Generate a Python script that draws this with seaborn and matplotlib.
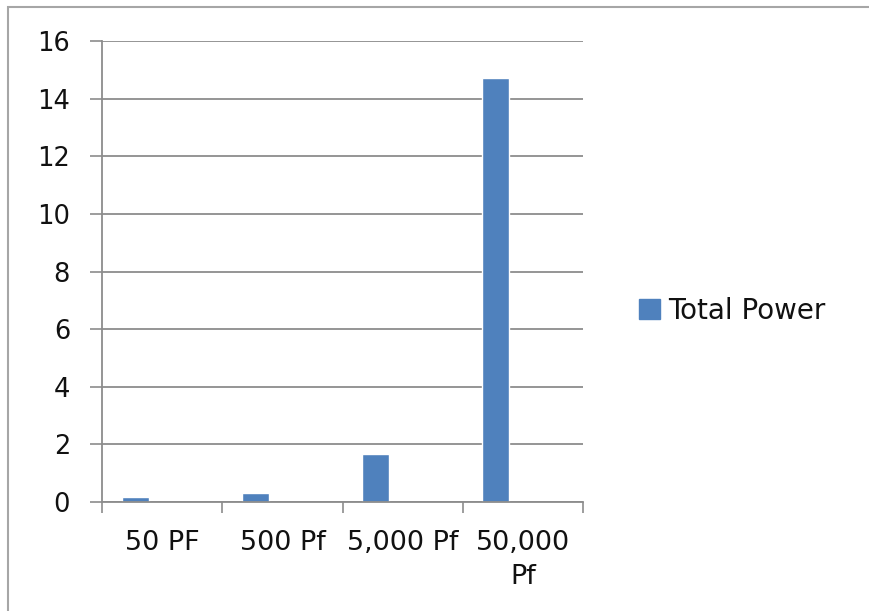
import matplotlib
matplotlib.use("Agg")
import matplotlib.pyplot as plt
import seaborn as sns
import pandas as pd
import numpy as np
from matplotlib.patches import Rectangle, Patch

categories = ["50 PF", "500 Pf", "5,000 Pf", "50,000\nPf"]
series_name = "Total Power"
values = [0.18, 0.31, 1.65, 14.7]
y_ticks = [0, 2, 4, 6, 8, 10, 12, 14, 16]
# two empty placeholder series (Excel leaves their slots empty)
empty_series = ["_s2", "_s3"]

sns.set_theme(style="white")
plt.rcParams['font.family'] = ['DejaVu Sans']

rows = [{"cat": c, "val": v, "series": series_name} for c, v in zip(categories, values)]
for s in empty_series:
    rows += [{"cat": c, "val": np.nan, "series": s} for c in categories]
df = pd.DataFrame(rows)

fig = plt.figure(figsize=(8.69, 6.11), dpi=100)
fig.patch.set_facecolor("white")
ax = fig.add_axes([102 / 869, 1 - 502 / 611, (583 - 102) / 869, (502 - 41) / 611])

bar_color = "#4F81BD"
sns.barplot(data=df, x="cat", y="val", hue="series",
            hue_order=[series_name] + empty_series,
            palette={series_name: bar_color, "_s2": "#C0504D", "_s3": "#9BBB59"},
            width=0.675, ax=ax, legend=False, errorbar=None, saturation=1,
            order=categories)

ax.set_ylim(0, 16)
ax.set_xlim(-0.5, len(categories) - 0.5)
ax.set_yticks(y_ticks)
ax.set_yticklabels([str(t) for t in y_ticks], fontsize=18.5, color="#111111")
ax.set_xlabel("")
ax.set_ylabel("")

# gridlines
ax.yaxis.grid(True, color="#8c8c8c", linewidth=1.3)
ax.xaxis.grid(False)
ax.set_axisbelow(True)

# x ticks at category boundaries, labels at centers
ax.set_xticks([i - 0.5 for i in range(len(categories) + 1)], minor=False)
ax.set_xticklabels([""] * (len(categories) + 1))
ax.set_xticks(list(range(len(categories))), minor=True)
ax.set_xticklabels(categories, minor=True, fontsize=19.5, color="#111111", linespacing=1.4)
ax.tick_params(axis="x", which="minor", length=0, pad=20, bottom=True)
ax.tick_params(axis="x", which="major", length=8, width=1.2, color="#8c8c8c",
               direction="out", bottom=True)
ax.tick_params(axis="y", length=9, width=1.2, color="#8c8c8c", direction="out",
               pad=14, left=True)

for s in ["top", "right"]:
    ax.spines[s].set_visible(False)
for s in ["left", "bottom"]:
    ax.spines[s].set_color("#8c8c8c")
    ax.spines[s].set_linewidth(1.3)

handle = Patch(facecolor=bar_color, edgecolor=bar_color)
fig.legend([handle], [series_name], loc="center left",
           bbox_to_anchor=(639 / 869, 1 - 311 / 611), frameon=False,
           fontsize=20, handlelength=0.75, handleheight=0.75, handletextpad=0.3,
           borderaxespad=0, borderpad=0, labelcolor="#111111")

# outer chart frame (extends off the right/bottom edge)
frame = Rectangle((8 / 869, -0.05), 1.2, 1 - 7 / 611 + 0.05, transform=fig.transFigure,
                  fill=False, edgecolor="#a6a6a6", linewidth=1.5, zorder=10)
fig.patches.append(frame)

fig.savefig("out.png", dpi=100)
